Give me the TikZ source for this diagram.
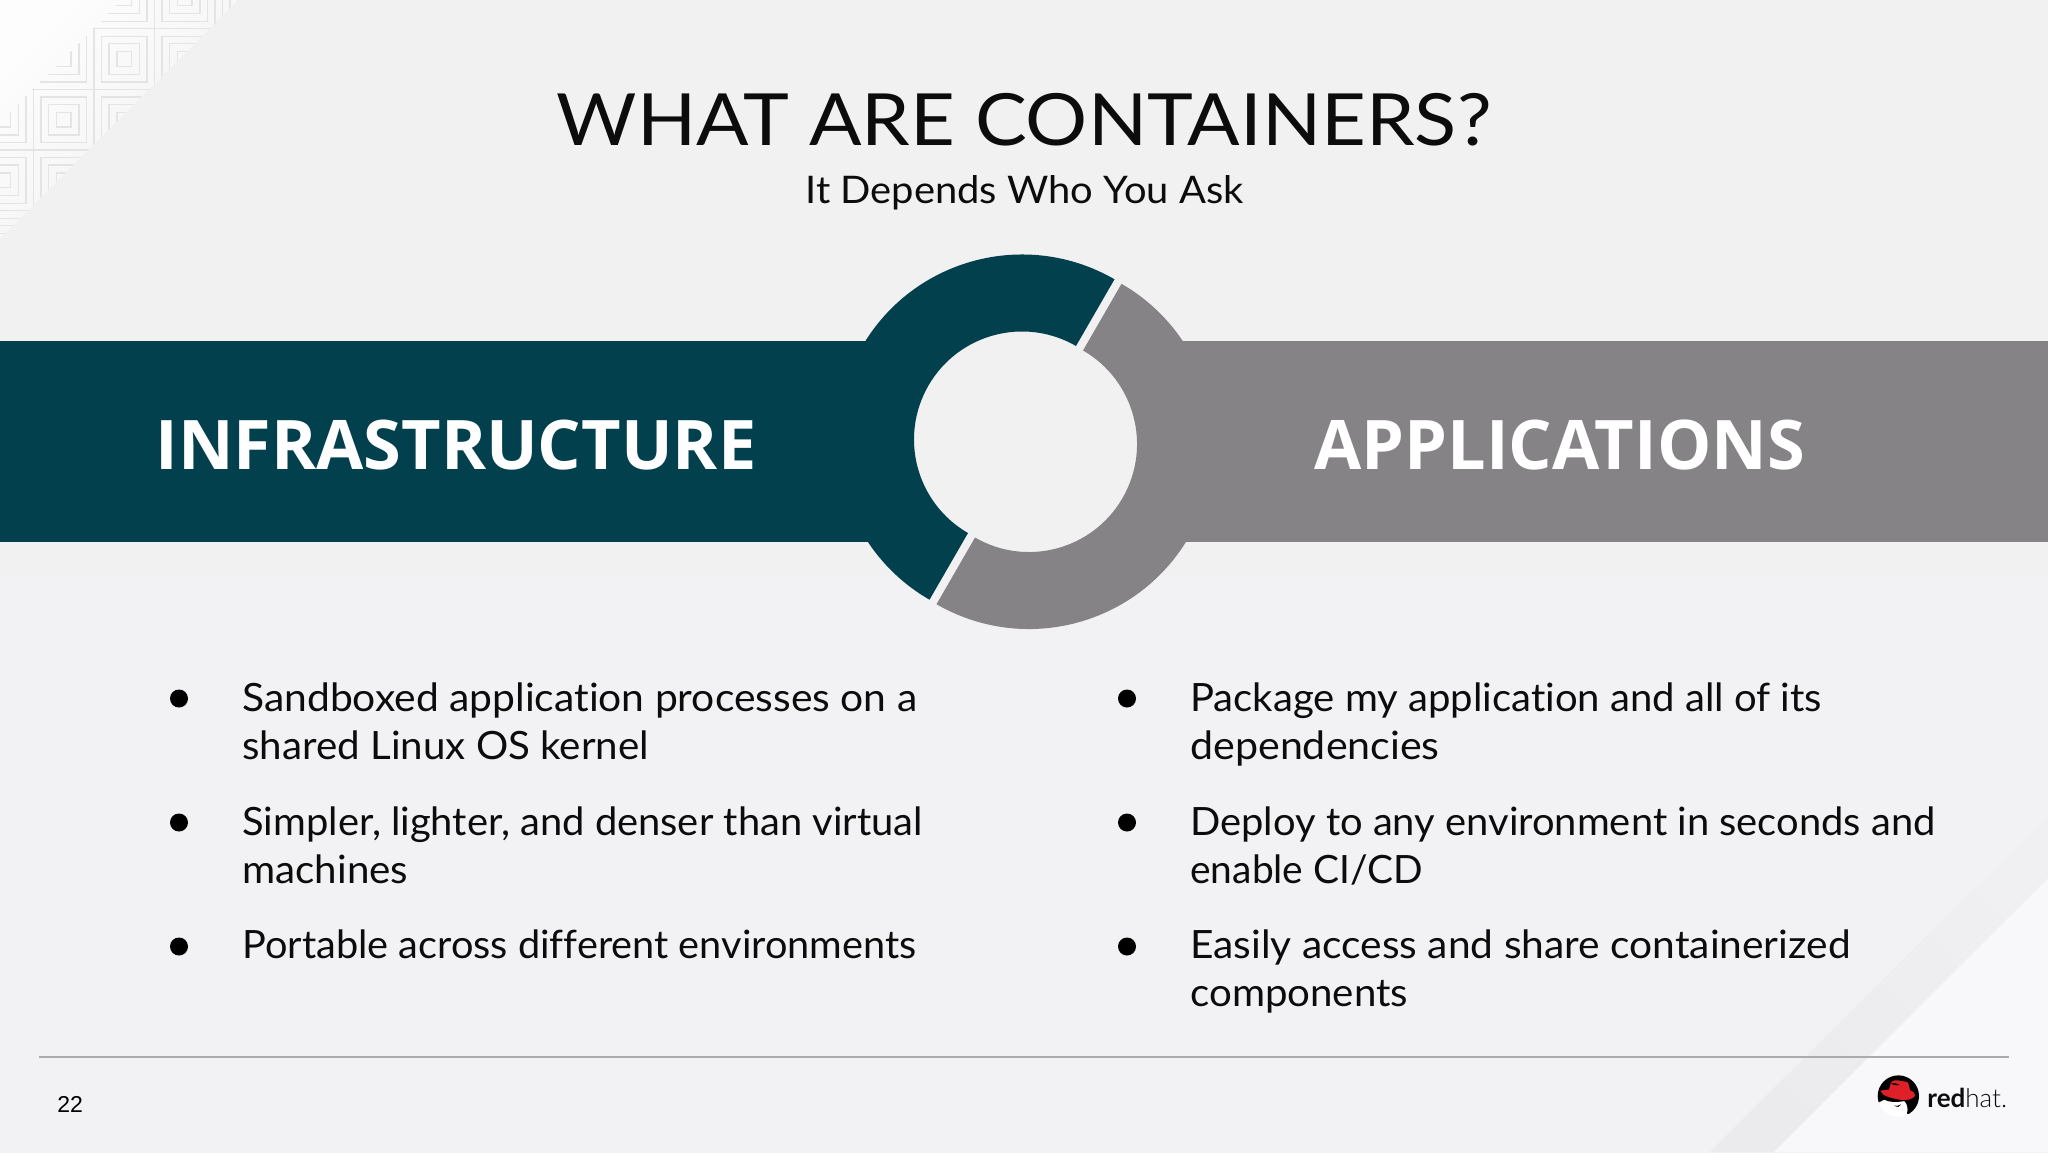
\documentclass[tikz,border=0pt]{standalone}
\usepackage{fontspec}
\setmainfont{Lato}[Ligatures=NoCommon]
\newfontfamily\headfont{Open Sans}
\newfontfamily\numfont{Liberation Sans}
\newfontfamily\titlefont{Lato}[FakeStretch=1.078,Ligatures=NoCommon]
\newfontfamily\bodyfont{Lato}[FakeStretch=1.05,Ligatures=NoCommon]
\newfontfamily\logolight{Lato Light}
\definecolor{bgtop}{HTML}{F1F1F1}
\definecolor{bgbot}{HTML}{F2F1F4}
\definecolor{tealc}{HTML}{03404E}
\definecolor{greyc}{HTML}{858386}
\definecolor{patc}{HTML}{E4E4E4}
\definecolor{stripea}{HTML}{F0EFF2}
\definecolor{stripeb}{HTML}{EBEAED}
\definecolor{lightc}{HTML}{F8F7FA}
\definecolor{cornera}{HTML}{FDFDFD}
\definecolor{cornerb}{HTML}{F1F1F1}
\definecolor{rulec}{HTML}{ABABAB}
\definecolor{hatred}{HTML}{E02028}
\definecolor{inkc}{HTML}{0C0C0C}
\newcommand{\fitx}[2]{\scalebox{#1}[1]{#2}}
\tikzset{
  bodytext/.style={anchor=base west,inner sep=0pt,text=inkc,font=\bodyfont\fontsize{19.5}{23}\selectfont},
  headtext/.style={anchor=base,inner sep=0pt,text=white,font=\headfont\bfseries\fontsize{34.2}{42}\selectfont},
  bulletdot/.style={fill=black,draw=none,circle,minimum size=9pt,inner sep=0pt},
  patline/.style={draw=patc,line width=.65pt}
}
\begin{document}
\begin{tikzpicture}[x=.5pt,y=-.5pt]
\useasboundingbox (0,0) rectangle (2048,1152);
\shade[top color=bgtop,bottom color=bgbot] (0,0) rectangle (2048,1152);
% bottom-right corner decoration
\shade[top color=stripea,bottom color=stripeb,shading angle=-45] (1710,1152) -- (2048,814) -- (2048,878) -- (1774,1152) -- cycle;
\fill[lightc] (1774,1152) -- (2048,878) -- (2048,1152) -- cycle;
% top-left corner decoration
\shade[top color=cornera,bottom color=cornerb,shading angle=45] (0,0) -- (238,0) -- (0,238) -- cycle;
\begin{scope}
  \clip (122,0) -- (238,0) -- (0,238) -- (0,122) -- cycle;
  \foreach \i in {0,...,4} \foreach \j in {0,...,4} {
    \pgfmathsetmacro{\xa}{-27+60.5*\i}
    \pgfmathsetmacro{\ya}{-32+60.7*\j}
    \draw[patline] (\xa,\ya) rectangle ++(60.5,60.7);
    \draw[patline] (\xa+7.5,\ya+7.5) rectangle ++(45.5,45.7);
    \draw[patline] (\xa+15,\ya+15) rectangle ++(30.5,30.7);
    \draw[patline] (\xa+23,\ya+23) rectangle ++(14.5,14.7);
  }
\end{scope}
% bands
\fill[tealc] (0,341) rectangle (880,542);
\fill[greyc] (1170,341) rectangle (2048,542);
% ring
\begin{scope}[shift={(1022,439.5)},y=.5pt]
  \fill[tealc] (60:185) arc[start angle=60,end angle=240,radius=185] -- (240:108) arc[start angle=240,end angle=60,radius=108] -- cycle;
\end{scope}
\begin{scope}[shift={(1029,444)},y=.5pt]
  \fill[greyc] (60:185) arc[start angle=60,end angle=-120,radius=185] -- (-120:108) arc[start angle=-120,end angle=60,radius=108] -- cycle;
\end{scope}
% title
\node[anchor=base,inner sep=0pt,text=inkc,font=\titlefont\fontsize{36}{44}\selectfont] (title) at (1024,145) {WHAT ARE CONTAINERS?};
\node[anchor=base,inner sep=0pt,text=inkc,font=\bodyfont\fontsize{19}{23}\selectfont] (subtitle) at (1024.5,203) {It Depends Who You Ask};
% band labels
\node[headtext] (infra) at (456,469.5) {INFRASTRUCTURE};
\node[headtext] (apps) at (1559.5,469.5) {APPLICATIONS};
% left column
\node[bulletdot] (lb1) at (179,698.5) {};
\node[bulletdot] (lb2) at (179,822.5) {};
\node[bulletdot] (lb3) at (179,946.5) {};
\node[bodytext] (l1a) at (242,711) {\fitx{.996}{Sandboxed application processes on a}};
\node[bodytext] (l1b) at (242,759) {\fitx{.984}{shared Linux OS kernel}};
\node[bodytext] (l2a) at (242,835) {\fitx{.974}{Simpler, lighter, and denser than virtual}};
\node[bodytext] (l2b) at (242,883) {\fitx{.984}{machines}};
\node[bodytext] (l3a) at (242,958) {\fitx{.969}{Portable across different environments}};
% right column
\node[bulletdot] (rb1) at (1127,698.5) {};
\node[bulletdot] (rb2) at (1127,822.5) {};
\node[bulletdot] (rb3) at (1127,946.5) {};
\node[bodytext] (r1a) at (1190,711) {\fitx{.978}{Package my application and all of its}};
\node[bodytext] (r1b) at (1190,759) {\fitx{1.005}{dependencies}};
\node[bodytext] (r2a) at (1190,835) {\fitx{.974}{Deploy to any environment in seconds and}};
\node[bodytext] (r2b) at (1190,883) {\fitx{.95}{enable CI/CD}};
\node[bodytext] (r3a) at (1190,958) {\fitx{.994}{Easily access and share containerized}};
\node[bodytext] (r3b) at (1190,1006) {\fitx{.982}{components}};
% footer
\coordinate (ruleL) at (39,1057);
\coordinate (ruleR) at (2009,1057);
\draw[rulec,line width=.8pt] (ruleL) -- (ruleR);
\node[anchor=base west,inner sep=0pt,text=black,font=\numfont\fontsize{11.5}{14}\selectfont] (pagenum) at (57,1112) {22};
% logo
\begin{scope}[shift={(1865,1065)},x=.1667pt,y=-.1667pt]
  \fill[white] (100,93) circle[radius=62];
  \begin{scope}
    \clip (100,93) circle[radius=62];
    \fill[black] (30,100) -- (42,112) .. controls (50,108) and (54,104) .. (58,104) .. controls (70,112) and (100,112) .. (118,108) .. controls (126,116) and (130,128) .. (126,146) -- (170,150) -- (170,20) -- (30,20) -- cycle;
  \end{scope}
  \fill[hatred] (46,78) .. controls (56,74) and (66,74) .. (72,74) .. controls (76,60) and (76,48) .. (88,46) .. controls (100,44) and (112,50) .. (124,50) .. controls (132,52) and (132,66) .. (135,76) .. controls (146,80) and (152,86) .. (150,92) .. controls (146,102) and (124,108) .. (104,104) .. controls (82,100) and (52,94) .. (46,78) -- cycle;
  \fill[black] (78,56) .. controls (86,52) and (98,56) .. (104,60) .. controls (92,62) and (84,60) .. (78,56) -- cycle;
  \fill[black] (88,122) .. controls (94,124) and (100,122) .. (108,118) .. controls (106,126) and (96,128) .. (88,122) -- cycle;
\end{scope}
\node[anchor=base west,inner sep=0pt,text=inkc,font=\fontsize{13}{16}\selectfont] (logotext) at (1927,1107) {\textbf{red}{\logolight hat.}};
\end{tikzpicture}
\end{document}
